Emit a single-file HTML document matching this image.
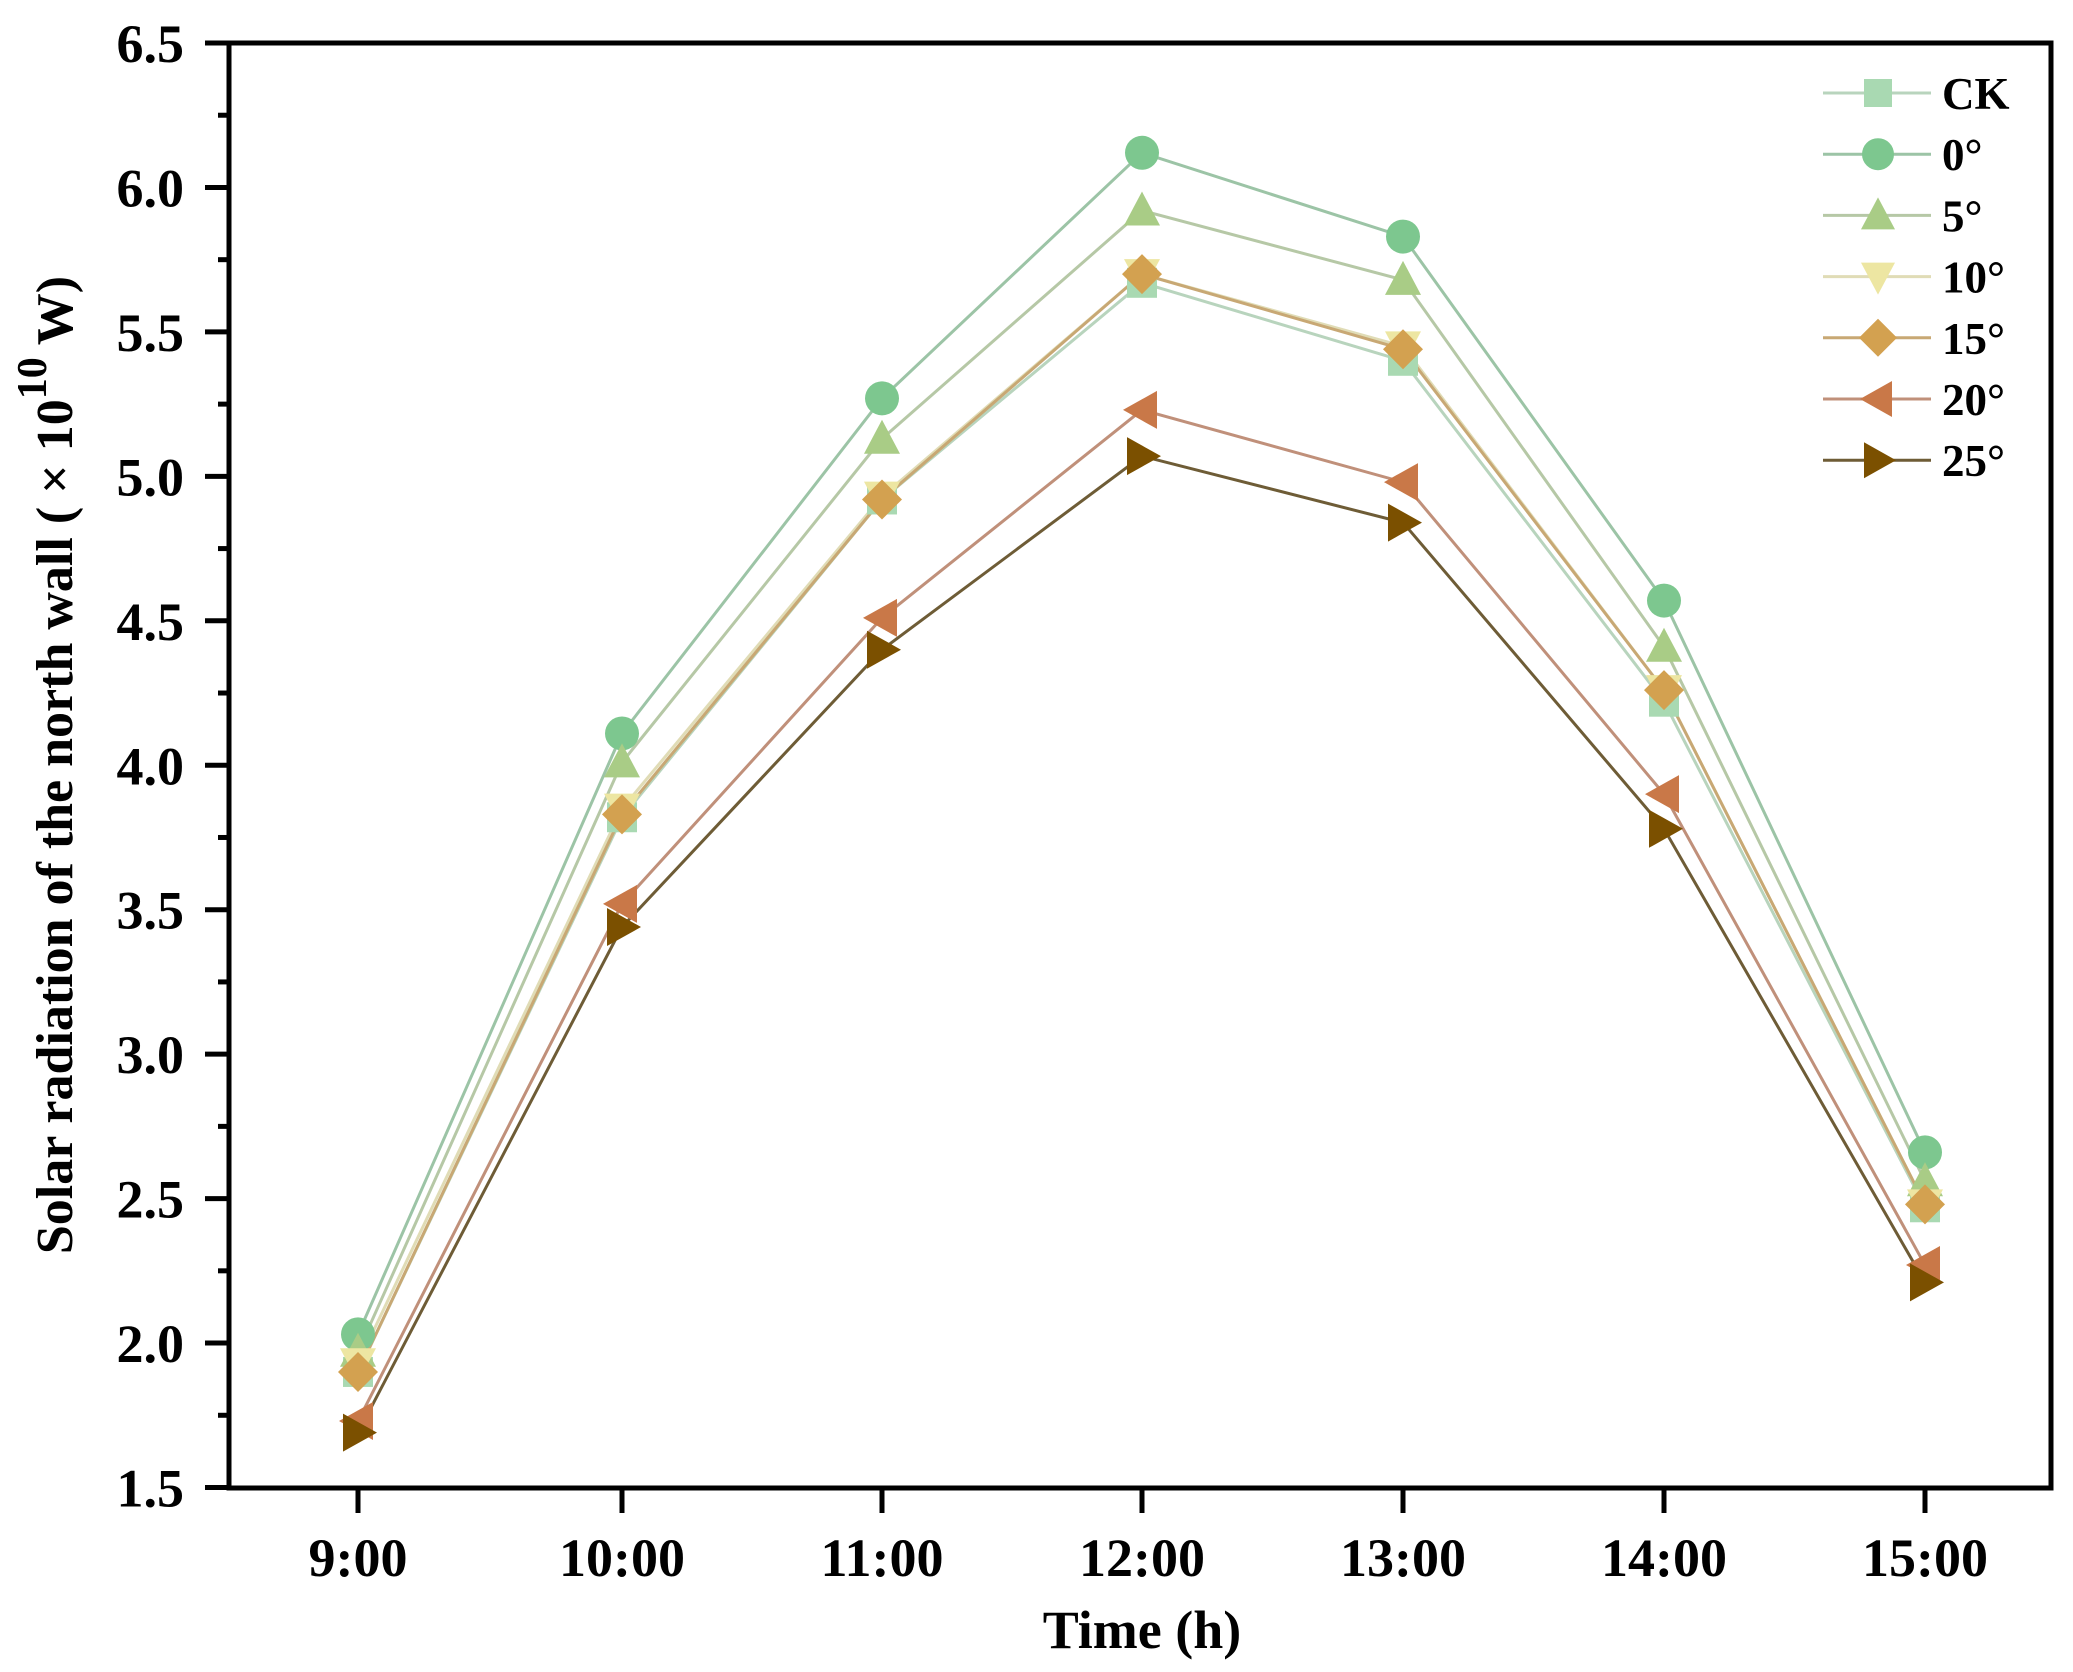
<!DOCTYPE html>
<html><head><meta charset="utf-8"><style>html,body{margin:0;padding:0;background:#fff}svg{display:block}text{font-family:"Liberation Serif",serif;font-weight:bold;fill:#000}</style></head>
<body>
<svg id="s" width="2073" height="1672" viewBox="0 0 2073 1672" xmlns="http://www.w3.org/2000/svg">
<rect width="2073" height="1672" fill="#fff"/>
<g id="ax"></g>
<g id="data"></g>
<g id="leg"></g>
<rect x="229" y="43" width="1822" height="1445" fill="none" stroke="#000" stroke-width="5"/>
<text x="1142" y="1648" font-size="54" text-anchor="middle">Time (h)</text>
<text transform="translate(72,765) rotate(-90)" font-size="52" text-anchor="middle">Solar radiation of the north wall ( × 10<tspan dy="-26" font-size="42">10</tspan><tspan dy="26"> W)</tspan></text>
</svg>
<script>
const NS="http://www.w3.org/2000/svg";
function el(p,t,a,txt){const e=document.createElementNS(NS,t);for(const k in a)e.setAttribute(k,a[k]);if(txt!==undefined)e.textContent=txt;p.appendChild(e);return e;}
const L=229,R=2051,T=43,B=1488;
const Y=v=>T+(6.5-v)*288.9;
const xs=[358,622,882,1142,1403,1664,1925];
const ax=document.getElementById('ax');
for(let i=0;i<=20;i++){const v=1.5+i*0.25;const y=Y(v);const maj=i%2==0;
 el(ax,'line',{x1:L-(maj?24:11),x2:L,y1:y,y2:y,stroke:'#000','stroke-width':5});
 if(maj)el(ax,'text',{x:184,y:y+19,'font-size':54,'text-anchor':'end'},v.toFixed(1));}
const lab=['9:00','10:00','11:00','12:00','13:00','14:00','15:00'];
xs.forEach((x,i)=>{el(ax,'line',{x1:x,x2:x,y1:B,y2:B+25,stroke:'#000','stroke-width':5});
 el(ax,'text',{x:x,y:1576,'font-size':54,'text-anchor':'middle'},lab[i]);});
const S=[
 ['CK','#a9d9b2','#b8d4bd','sq',[1.90,3.82,4.92,5.67,5.40,4.22,2.47]],
 ['0°','#7dc78f','#9cc4a6','ci',[2.03,4.11,5.27,6.12,5.83,4.57,2.66]],
 ['5°','#a9cc86','#b6c8a6','tu',[1.97,4.01,5.13,5.92,5.68,4.41,2.56]],
 ['10°','#ede6a2','#e0dcb6','td',[1.93,3.85,4.93,5.70,5.45,4.26,2.48]],
 ['15°','#d3a150','#c8a874','di',[1.90,3.83,4.92,5.70,5.44,4.26,2.48]],
 ['20°','#c97848','#c0907a','tl',[1.73,3.52,4.51,5.23,4.98,3.90,2.27]],
 ['25°','#7b5000','#6e5c36','tr',[1.69,3.44,4.40,5.07,4.84,3.78,2.21]]];
function mk(g,type,x,y,c,r){r=r||17;let p;
 if(type=='sq')return el(g,'rect',{x:x-r+2,y:y-r+2,width:2*r-4,height:2*r-4,fill:c});
 if(type=='ci')return el(g,'circle',{cx:x,cy:y,r:r,fill:c});
 if(type=='tu')p=[[x,y-r-2],[x+r+1,y+r-2],[x-r-1,y+r-2]];
 if(type=='td')p=[[x,y+r+2],[x+r+1,y-r+2],[x-r-1,y-r+2]];
 if(type=='di')p=[[x,y-r-3],[x+r+3,y],[x,y+r+3],[x-r-3,y]];
 if(type=='tl')p=[[x-r-2,y],[x+r-2,y-r-2],[x+r-2,y+r+2]];
 if(type=='tr')p=[[x+r+2,y],[x-r+2,y-r-2],[x-r+2,y+r+2]];
 return el(g,'polygon',{points:p.map(q=>q.join(',')).join(' '),fill:c});}
const d=document.getElementById('data'),lg=document.getElementById('leg');
S.forEach((s,i)=>{el(d,'polyline',{points:s[4].map((v,j)=>xs[j]+','+Y(v)).join(' '),fill:'none',stroke:s[2],'stroke-width':3});});
S.forEach((s,i)=>{s[4].forEach((v,j)=>mk(d,s[3],xs[j],Y(v),s[1]));
 const y=93+i*61.2;
 el(lg,'line',{x1:1823,x2:1931,y1:y,y2:y,stroke:s[2],'stroke-width':3});
 mk(lg,s[3],1878,y,s[1],16);
 el(lg,'text',{x:1942,y:y+16,'font-size':45},s[0]);});
</script>
</body></html>
